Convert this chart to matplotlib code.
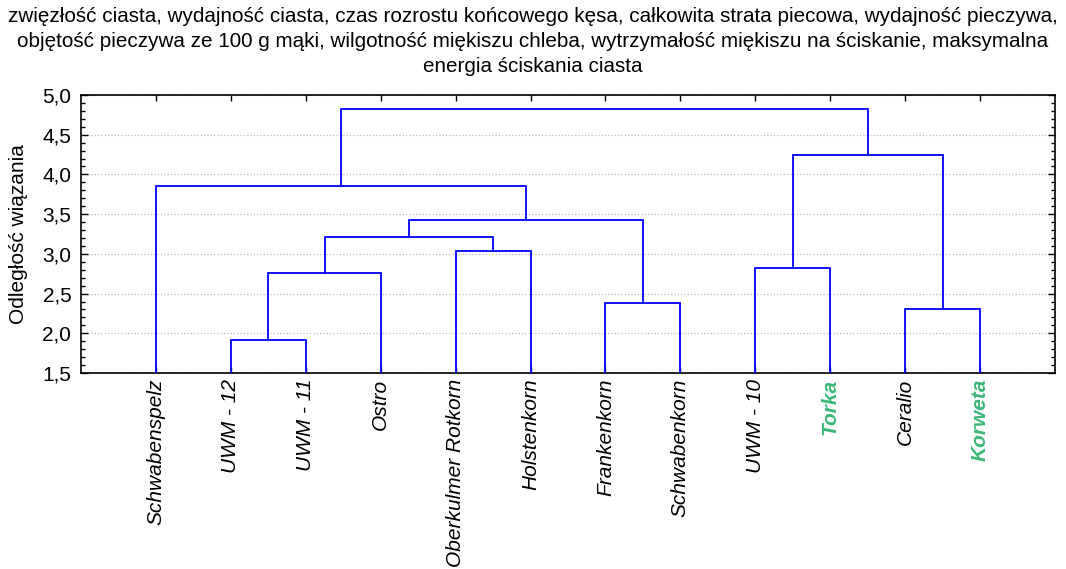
import matplotlib
matplotlib.use("Agg")
import matplotlib.pyplot as plt
import matplotlib.ticker as mticker

plt.rcParams["font.family"] = ["Liberation Sans", "DejaVu Sans"]

# liście dendrogramu (kolejność na osi X)
odmiany = ["Schwabenspelz", "UWM - 12", "UWM - 11", "Ostro", "Oberkulmer Rotkorn",
           "Holstenkorn", "Frankenkorn", "Schwabenkorn", "UWM - 10", "Torka",
           "Ceralio", "Korweta"]
wyroznione = ["Torka", "Korweta"]

# łączenia: (skupienie A, skupienie B, odległość wiązania)
polaczenia = [
    ("UWM - 12", "UWM - 11", 1.92),
    ("c0", "Ostro", 2.76),
    ("Oberkulmer Rotkorn", "Holstenkorn", 3.04),
    ("c1", "c2", 3.21),
    ("Frankenkorn", "Schwabenkorn", 2.38),
    ("c3", "c4", 3.43),
    ("Schwabenspelz", "c5", 3.85),
    ("UWM - 10", "Torka", 2.82),
    ("Ceralio", "Korweta", 2.30),
    ("c7", "c8", 4.25),
    ("c6", "c9", 4.83),
]

tytul = ("zwięzłość ciasta, wydajność ciasta, czas rozrostu końcowego kęsa, całkowita strata piecowa, wydajność pieczywa,\n"
         "objętość pieczywa ze 100 g mąki, wilgotność miękiszu chleba, wytrzymałość miękiszu na ściskanie, maksymalna\n"
         "energia ściskania ciasta")

Y_MIN = 1.5
poz = {n: (i, Y_MIN) for i, n in enumerate(odmiany)}

fig = plt.figure(figsize=(10.66, 5.69), dpi=100)
ax = fig.add_axes([0.076, 0.3445, 0.9137, 0.4885])

for k, (a, b, h) in enumerate(polaczenia):
    xa, ya = poz[a]
    xb, yb = poz[b]
    ax.plot([xa, xa, xb, xb], [ya, h, h, yb], color="#0000ff", lw=1.3,
            solid_joinstyle="miter", zorder=3)
    poz[f"c{k}"] = ((xa + xb) / 2, h)

ax.set_xlim(-1, len(odmiany))
ax.set_ylim(Y_MIN, 5.0)
ax.set_xticks(range(len(odmiany)))
ax.set_xticklabels([])
ax.yaxis.set_major_locator(mticker.MultipleLocator(0.5))
ax.yaxis.set_minor_locator(mticker.MultipleLocator(0.1))
ax.yaxis.set_major_formatter(mticker.FuncFormatter(lambda v, p: f"{v:.1f}".replace(".", ",")))
ax.tick_params(axis="both", which="both", direction="in", top=True, right=True,
               width=1.0, color="black")
ax.tick_params(axis="y", which="major", length=5, labelsize=15, pad=7)
ax.tick_params(axis="y", which="minor", length=3)
ax.tick_params(axis="x", which="major", length=4)
ax.grid(axis="y", which="major", color="#bbbbbb", linestyle=":", lw=0.9, zorder=0)
for s in ax.spines.values():
    s.set_linewidth(1.2)

for i, n in enumerate(odmiany):
    if n in wyroznione:
        ax.text(i, Y_MIN - 0.07, n, rotation=90, ha="center", va="top", fontsize=15,
                style="italic", weight="bold", color="#3cb878")
    else:
        ax.text(i, Y_MIN - 0.07, n, rotation=90, ha="center", va="top", fontsize=15,
                style="italic", color="black")

ax.set_ylabel("Odległość wiązania", fontsize=15)
ax.yaxis.set_label_coords(-0.0545, 0.5)
fig.text(0.5, 0.987, tytul, ha="center", va="top", fontsize=14.9, linespacing=1.4)

fig.savefig("out.png", dpi=100)
